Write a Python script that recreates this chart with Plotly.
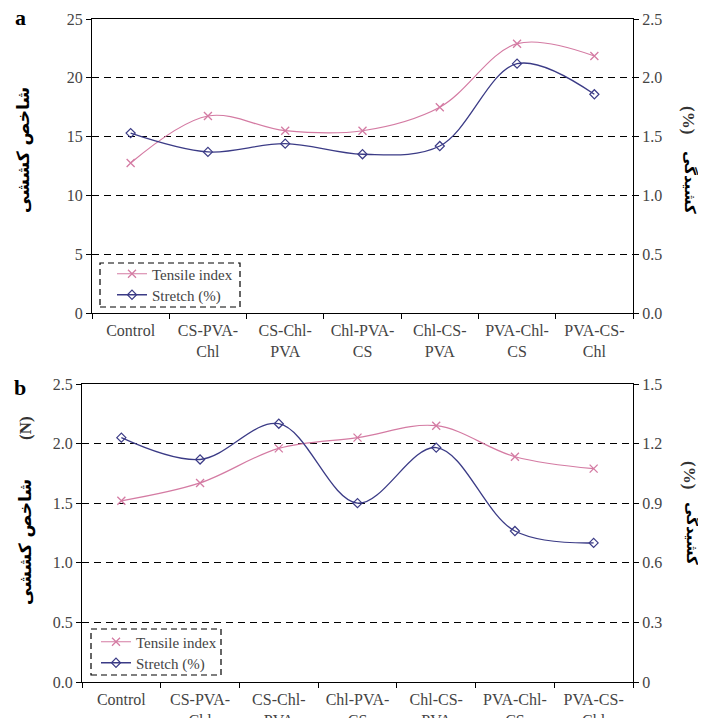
import plotly.graph_objects as go

W, H = 706, 718
OFF = 8  # page body margin
FW, FH = W - OFF, H - OFF

categories = ["Control", "CS-PVA-<br>Chl", "CS-Chl-<br>PVA", "Chl-PVA-<br>CS",
              "Chl-CS-<br>PVA", "PVA-Chl-<br>CS", "PVA-CS-<br>Chl"]

# Panel a
a_tensile = [12.75, 16.75, 15.5, 15.5, 17.5, 22.9, 21.85]
a_stretch = [1.53, 1.37, 1.44, 1.35, 1.42, 2.12, 1.86]
# Panel b
b_tensile = [1.52, 1.67, 1.96, 2.05, 2.15, 1.89, 1.79]
b_stretch = [1.23, 1.12, 1.30, 0.90, 1.18, 0.76, 0.70]

a_left_ticks = [0, 5, 10, 15, 20, 25]
a_right_ticks = [0.0, 0.5, 1.0, 1.5, 2.0, 2.5]
b_left_ticks = [0.0, 0.5, 1.0, 1.5, 2.0, 2.5]
b_right_ticks = [0, 0.3, 0.6, 0.9, 1.2, 1.5]
b_right_labels = ["0", "0.3", "0.6", "0.9", "1.2", "1.5"]

PINK = "#d47ba3"
BLUE = "#3b3b86"
SERIF = "Liberation Serif"
TICKC = "#444444"

fig = go.Figure()

def add_pair(xa, ya_l, ya_r, tens, stre, leg_t, leg_s):
    fig.add_trace(go.Scatter(
        x=categories, y=tens, name="Tensile index", xaxis=xa, yaxis=ya_l,
        mode="lines+markers", line=dict(color=PINK, width=1.2, shape="spline"),
        marker=dict(symbol="x-thin", size=8, line=dict(color=PINK, width=1.3)),
        legend=leg_t))
    fig.add_trace(go.Scatter(
        x=categories, y=stre, name="Stretch (%)", xaxis=xa, yaxis=ya_r,
        mode="lines+markers", line=dict(color=BLUE, width=1.3, shape="spline"),
        marker=dict(symbol="diamond-open", size=7, color=BLUE, line=dict(width=1.2)),
        legend=leg_s))

add_pair("x", "y", "y2", a_tensile, a_stretch, "legend", "legend2")
add_pair("x2", "y3", "y4", b_tensile, b_stretch, "legend3", "legend4")

def px_x(v):
    return (v - OFF) / FW

def px_y(v):
    return 1 - (v - OFF) / FH

tickfont = dict(family=SERIF, size=16, color=TICKC)

xcommon = dict(type="category", range=[-0.5, 6.5], showline=True, linecolor="black",
               linewidth=1.2, mirror=True, ticks="outside", ticklen=5, tickcolor="black",
               tickson="boundaries", showgrid=False, tickfont=tickfont, automargin=False,
               ticklabelstandoff=3)

ycommon = dict(showline=True, linecolor="black", linewidth=1.2, ticks="outside",
               ticklen=5, tickcolor="black", zeroline=False, tickfont=tickfont,
               automargin=False)

def leg(x, y):
    return dict(x=px_x(x), y=px_y(y), xanchor="left", yanchor="middle",
                bgcolor="rgba(0,0,0,0)", font=dict(family=SERIF, size=15, color=TICKC),
                tracegroupgap=0, itemwidth=30)

fig.update_layout(
    width=FW, height=FH, margin=dict(l=0, r=0, t=0, b=0),
    paper_bgcolor="white", plot_bgcolor="white",
    xaxis=dict(domain=[px_x(92), px_x(633)], anchor="y", **xcommon),
    xaxis2=dict(domain=[px_x(82), px_x(633)], anchor="y3", **xcommon),
    yaxis=dict(domain=[px_y(313), px_y(19)], anchor="x", range=[0, 25],
               tickvals=a_left_ticks, showgrid=True, gridcolor="black", gridwidth=1,
               griddash="7px,5px", **ycommon),
    yaxis2=dict(overlaying="y", side="right", anchor="x", range=[0, 2.5],
                tickvals=a_right_ticks, tickformat=".1f", showgrid=False, **ycommon),
    yaxis3=dict(domain=[px_y(682), px_y(384)], anchor="x2", range=[0, 2.5],
                tickvals=b_left_ticks, tickformat=".1f", showgrid=True, gridcolor="black",
                gridwidth=1, griddash="7px,5px", **ycommon),
    yaxis4=dict(overlaying="y3", side="right", anchor="x2", range=[0, 1.5],
                tickvals=b_right_ticks, ticktext=b_right_labels, showgrid=False, **ycommon),
    legend=leg(112, 274),
    legend2=leg(112, 295),
    legend3=leg(96, 642),
    legend4=leg(96, 663),
    showlegend=True,
)

# dashed legend frames
for (x0, y0, x1, y1) in [(100, 263, 240, 307), (91, 629, 221, 675)]:
    fig.add_shape(type="rect", xref="paper", yref="paper",
                  x0=px_x(x0), x1=px_x(x1), y0=px_y(y1), y1=px_y(y0),
                  line=dict(color="black", width=1.2, dash="6px,4px"))

PERS = "DejaVu Sans"
annots = [
    dict(text="<b>a</b>", x=20, y=18, font=dict(family=SERIF, size=22, color="black"), textangle=0),
    dict(text="<b>b</b>", x=20, y=388, font=dict(family=SERIF, size=22, color="black"), textangle=0),
    dict(text="<b>شاخص کششی</b>", x=24, y=150, font=dict(family=PERS, size=17, color="black"), textangle=-90),
    dict(text="<b>شاخص کششی</b>", x=25, y=542, font=dict(family=PERS, size=17, color="black"), textangle=-90),
    dict(text="<b>(N)</b>", x=25, y=428, font=dict(family=SERIF, size=17, color="#333333"), textangle=-90),
    dict(text="<b>(%)</b>", x=689, y=120, font=dict(family=SERIF, size=17, color="#333333"), textangle=90),
    dict(text="<b>کشیدگی</b>", x=690, y=182, font=dict(family=PERS, size=15, color="black"), textangle=90),
    dict(text="<b>(%)</b>", x=690, y=475, font=dict(family=SERIF, size=17, color="#333333"), textangle=90),
    dict(text="<b>کشیدگی</b>", x=692, y=533, font=dict(family=PERS, size=15, color="black"), textangle=90),
]
for a in annots:
    fig.add_annotation(text=a["text"], x=px_x(a["x"]), y=px_y(a["y"]), xref="paper", yref="paper",
                       showarrow=False, font=a["font"], textangle=a["textangle"],
                       xanchor="center", yanchor="middle")

fig.write_html("out.html")
